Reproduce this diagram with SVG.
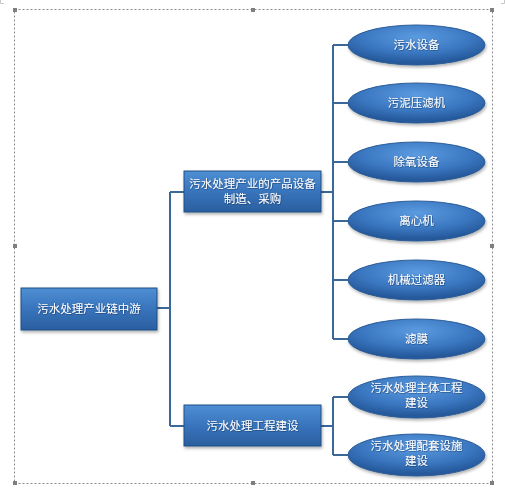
<svg xmlns="http://www.w3.org/2000/svg" width="505" height="491" viewBox="0 0 505 491">
<defs>
<linearGradient id="gBox" x1="0" y1="0" x2="0" y2="1">
<stop offset="0" stop-color="#4f8fd3"/>
<stop offset="0.5" stop-color="#3874bc"/>
<stop offset="1" stop-color="#2a5f9f"/>
</linearGradient>
<radialGradient id="gEll" cx="0.5" cy="0.3" r="0.65">
<stop offset="0" stop-color="#5c9be0"/>
<stop offset="0.6" stop-color="#3b78c2"/>
<stop offset="1" stop-color="#25589a"/>
</radialGradient>
<filter id="sh" x="-10%" y="-20%" width="130%" height="160%">
<feDropShadow dx="1" dy="2" stdDeviation="1.5" flood-color="#000" flood-opacity="0.3"/>
</filter>
<filter id="tsh" x="-10%" y="-30%" width="120%" height="160%">
<feDropShadow dx="0.6" dy="0.6" stdDeviation="0.4" flood-color="#0b2a50" flood-opacity="0.7"/>
</filter>
</defs>
<style>
.box{fill:url(#gBox);stroke:#1f4e85;stroke-width:1}
.ell{fill:url(#gEll);stroke:#2a5c96;stroke-width:1}
.t{font-family:"Noto Sans CJK SC","Noto Sans",sans-serif;font-size:11.5px;fill:#ffffff;text-anchor:middle;filter:url(#tsh)}
.c{fill:none;stroke:#3a6898;stroke-width:2}
.h{fill:#7f7f7f}
.frame{fill:none;stroke:#8a8a8a;stroke-width:1;stroke-dasharray:2,2}
</style>
<rect width="505" height="491" fill="#ffffff"/>
<g id="frame">
<path d="M0.5,0 V3.5 H4 M504.5,0 V3.5 H501" fill="none" stroke="#c8c8c8" stroke-width="1"/>
<rect class="frame" x="14.5" y="9.5" width="478" height="474"/>
<rect class="h" x="13" y="8" width="4" height="4"/>
<rect class="h" x="251" y="8" width="4" height="4"/>
<rect class="h" x="490" y="8" width="4" height="4"/>
<rect class="h" x="13" y="244" width="4" height="4"/>
<rect class="h" x="490" y="244" width="4" height="4"/>
<rect class="h" x="13" y="481" width="4" height="4"/>
<rect class="h" x="251" y="481" width="4" height="4"/>
<rect class="h" x="490" y="481" width="4" height="4"/>
</g>
<g id="connectors">
<path class="c" d="M157,308 H170 M170,192 V426 M170,192 H184 M170,426 H184"/>
<path class="c" d="M321,192 H333 M333,45 V339 M333,45 H348 M333,103 H348 M333,162 H348 M333,221 H348 M333,280 H348 M333,339 H348"/>
<path class="c" d="M321,426 H333 M333,397 V455 M333,397 H348 M333,455 H348"/>
</g>
<g id="n0"><rect class="box" x="21" y="288" width="136" height="42" filter="url(#sh)"/><text class="t" x="89" y="313">污水处理产业链中游</text></g>
<g id="n1"><rect class="box" x="184" y="171" width="137" height="41" filter="url(#sh)"/><text class="t" x="252.5" y="188">污水处理产业的产品设备</text><text class="t" x="252.5" y="203">制造、采购</text></g>
<g id="n2"><rect class="box" x="184" y="405" width="137" height="41" filter="url(#sh)"/><text class="t" x="252.5" y="430">污水处理工程建设</text></g>
<g id="e1"><ellipse class="ell" cx="416.5" cy="45" rx="68.5" ry="20" filter="url(#sh)"/><text class="t" x="416.5" y="49">污水设备</text></g>
<g id="e2"><ellipse class="ell" cx="416.5" cy="103" rx="68.5" ry="20" filter="url(#sh)"/><text class="t" x="416.5" y="107">污泥压滤机</text></g>
<g id="e3"><ellipse class="ell" cx="416.5" cy="162" rx="68.5" ry="20" filter="url(#sh)"/><text class="t" x="416.5" y="166">除氧设备</text></g>
<g id="e4"><ellipse class="ell" cx="416.5" cy="221" rx="68.5" ry="20" filter="url(#sh)"/><text class="t" x="416.5" y="225">离心机</text></g>
<g id="e5"><ellipse class="ell" cx="416.5" cy="280" rx="68.5" ry="20" filter="url(#sh)"/><text class="t" x="416.5" y="284">机械过滤器</text></g>
<g id="e6"><ellipse class="ell" cx="416.5" cy="339" rx="68.5" ry="20" filter="url(#sh)"/><text class="t" x="416.5" y="343">滤膜</text></g>
<g id="e7"><ellipse class="ell" cx="416.5" cy="397" rx="68.5" ry="21" filter="url(#sh)"/><text class="t" x="416.5" y="392">污水处理主体工程</text><text class="t" x="416.5" y="407">建设</text></g>
<g id="e8"><ellipse class="ell" cx="416.5" cy="455" rx="68.5" ry="21" filter="url(#sh)"/><text class="t" x="416.5" y="450">污水处理配套设施</text><text class="t" x="416.5" y="465">建设</text></g>
</svg>
